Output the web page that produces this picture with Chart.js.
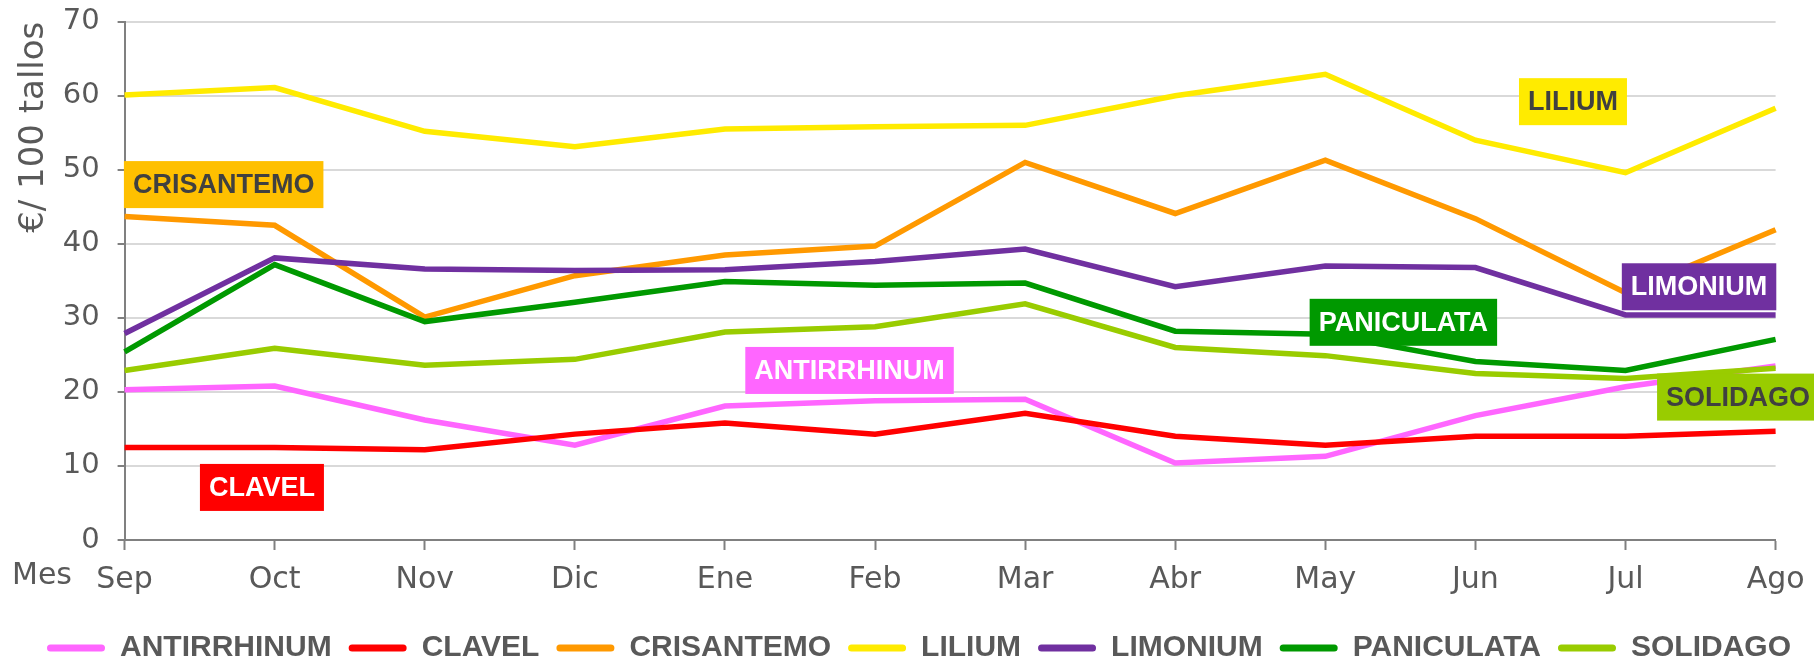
<!DOCTYPE html>
<html lang="es">
<head>
<meta charset="utf-8">
<title>Precios flor cortada</title>
<script src="https://cdn.jsdelivr.net/npm/chart.js@4.4.1/dist/chart.umd.min.js"></script>
<style>
  html, body { margin: 0; padding: 0; background: #fff; }
  #wrap { width: 1814px; height: 664px; position: relative; }
</style>
</head>
<body>
<div id="wrap"><canvas id="grafico"></canvas></div>
<script>
// Meses de la campaña (eje X)
const meses = ['Sep', 'Oct', 'Nov', 'Dic', 'Ene', 'Feb', 'Mar', 'Abr', 'May', 'Jun', 'Jul', 'Ago'];

// Precios en €/100 tallos
const antirrhinum = [20.3, 20.8, 16.2, 12.8, 18.1, 18.8, 19.0, 10.4, 11.3, 16.8, 20.7, 23.5];
const clavel      = [12.5, 12.5, 12.2, 14.3, 15.8, 14.3, 17.1, 14.0, 12.8, 14.0, 14.0, 14.7];
const crisantemo  = [43.7, 42.5, 30.1, 35.7, 38.5, 39.7, 51.0, 44.1, 51.3, 43.4, 33.4, 41.9];
const lilium      = [60.1, 61.1, 55.2, 53.1, 55.5, 55.8, 56.0, 60.0, 62.9, 54.0, 49.6, 58.3];
const limonium    = [27.9, 38.1, 36.6, 36.4, 36.5, 37.6, 39.3, 34.2, 37.0, 36.8, 30.4, 30.4];
const paniculata  = [25.4, 37.2, 29.5, 32.1, 34.9, 34.4, 34.7, 28.2, 27.8, 24.1, 22.9, 27.1];
const solidago    = [22.9, 25.9, 23.6, 24.4, 28.1, 28.8, 31.9, 26.0, 24.9, 22.5, 21.8, 23.2];

// Marcas del eje Y
const marcasY = [0, 10, 20, 30, 40, 50, 60, 70];

const series = [
    { nombre: 'ANTIRRHINUM', datos: antirrhinum, color: '#FF66FF' },
    { nombre: 'CLAVEL', datos: clavel, color: '#FF0000' },
    { nombre: 'CRISANTEMO', datos: crisantemo, color: '#FF9900' },
    { nombre: 'LILIUM', datos: lilium, color: '#FFEB00' },
    { nombre: 'LIMONIUM', datos: limonium, color: '#7030A0' },
    { nombre: 'PANICULATA', datos: paniculata, color: '#009900' },
    { nombre: 'SOLIDAGO', datos: solidago, color: '#99CC00' }
];

// Etiquetas de color sobre el gráfico (posición en índice de mes / valor)
const etiquetas = [
    { texto: 'CRISANTEMO', x: 0.66, y: 48.0, fondo: '#FFC000', tinta: '#404040' },
    { texto: 'LILIUM', x: 9.65, y: 59.2, fondo: '#FFEB00', tinta: '#404040' },
    { texto: 'LIMONIUM', x: 10.49, y: 34.2, fondo: '#7030A0', tinta: '#FFFFFF' },
    { texto: 'PANICULATA', x: 8.52, y: 29.4, fondo: '#009900', tinta: '#FFFFFF' },
    { texto: 'SOLIDAGO', x: 10.75, y: 19.3, fondo: '#99CC00', tinta: '#404040' },
    { texto: 'ANTIRRHINUM', x: 4.83, y: 22.9, fondo: '#FF66FF', tinta: '#FFFFFF' },
    { texto: 'CLAVEL', x: 0.915, y: 7.1, fondo: '#FF0000', tinta: '#FFFFFF' }
];

const GRIS = '#595959';
const FUENTE = "'DejaVu Sans', sans-serif";

// Cajas de texto de cada serie
const pluginEtiquetas = {
    id: 'etiquetas',
    afterDatasetsDraw(chart) {
        const { ctx, scales: { x, y } } = chart;
        ctx.save();
        ctx.font = "bold 27px 'Liberation Sans', sans-serif";
        ctx.textAlign = 'center';
        ctx.textBaseline = 'middle';
        etiquetas.forEach(e => {
            const cx = x.getPixelForValue(e.x);
            const cy = y.getPixelForValue(e.y);
            const w = ctx.measureText(e.texto).width + 18;
            const h = 47;
            ctx.fillStyle = e.fondo;
            ctx.fillRect(cx - w / 2, cy - h / 2, w, h);
            ctx.fillStyle = e.tinta;
            ctx.fillText(e.texto, cx, cy + 1);
        });
        ctx.restore();
    }
};

// Texto "Mes" a la izquierda de las etiquetas del eje X
const pluginMes = {
    id: 'mes',
    afterDraw(chart) {
        const { ctx, scales: { x } } = chart;
        ctx.save();
        ctx.font = '30px ' + FUENTE;
        ctx.fillStyle = GRIS;
        ctx.textAlign = 'left';
        ctx.textBaseline = 'middle';
        ctx.fillText('Mes', 12, x.top + 10 + 12 + 18 - 4);
        ctx.restore();
    }
};

Chart.defaults.font.family = FUENTE;
Chart.defaults.color = GRIS;

const ctx = document.getElementById('grafico').getContext('2d');
new Chart(ctx, {
    type: 'line',
    data: {
        labels: meses,
        datasets: series.map((s, i) => ({
            label: s.nombre,
            data: s.datos,
            borderColor: s.color,
            backgroundColor: s.color,
            borderWidth: 5.5,
            tension: 0,
            pointRadius: 0,
            fill: false,
            order: series.length - 1 - i
        }))
    },
    options: {
        responsive: true,
        maintainAspectRatio: false,
        animation: false,
        layout: { padding: { left: 24, right: 0, top: 0, bottom: -9 } },
        plugins: {
            tooltip: { enabled: false },
            legend: {
                position: 'bottom',
                labels: {
                    boxWidth: 58,
                    boxHeight: 7,
                    padding: 17,
                    color: GRIS,
                    font: { family: "'Liberation Sans', sans-serif", size: 30, weight: 'bold' },
                    sort: (a, b) => a.datasetIndex - b.datasetIndex,
                    generateLabels(chart) {
                        const items = Chart.defaults.plugins.legend.labels.generateLabels(chart);
                        items.forEach(it => { it.lineWidth = 0; it.borderRadius = 3.5; });
                        return items;
                    }
                }
            }
        },
        scales: {
            x: {
                grid: { drawOnChartArea: false, tickLength: 10, tickColor: '#808080', tickWidth: 2 },
                border: { color: '#808080', width: 2 },
                ticks: { font: { size: 30 }, padding: 12, maxRotation: 0, autoSkip: false },
                afterFit(scale) {
                    scale.height = 76;
                    scale.paddingRight = 38.4;
                }
            },
            y: {
                min: marcasY[0],
                max: marcasY[marcasY.length - 1],
                grid: { color: '#D9D9D9', lineWidth: 2, tickLength: 7, tickColor: '#808080', tickWidth: 2 },
                border: { color: '#808080', width: 2 },
                ticks: { stepSize: marcasY[1] - marcasY[0], font: { size: 29 }, padding: 18 },
                title: {
                    display: true,
                    text: '€/ 100 tallos',
                    align: 'end',
                    color: GRIS,
                    font: { size: 34 },
                    padding: { top: -10, bottom: 0 }
                },
                afterFit(scale) {
                    scale.width = 100.6;
                    scale.paddingTop = 21.7;
                    scale.paddingBottom = 0;
                }
            }
        }
    },
    plugins: [pluginEtiquetas, pluginMes]
});
</script>
</body>
</html>
